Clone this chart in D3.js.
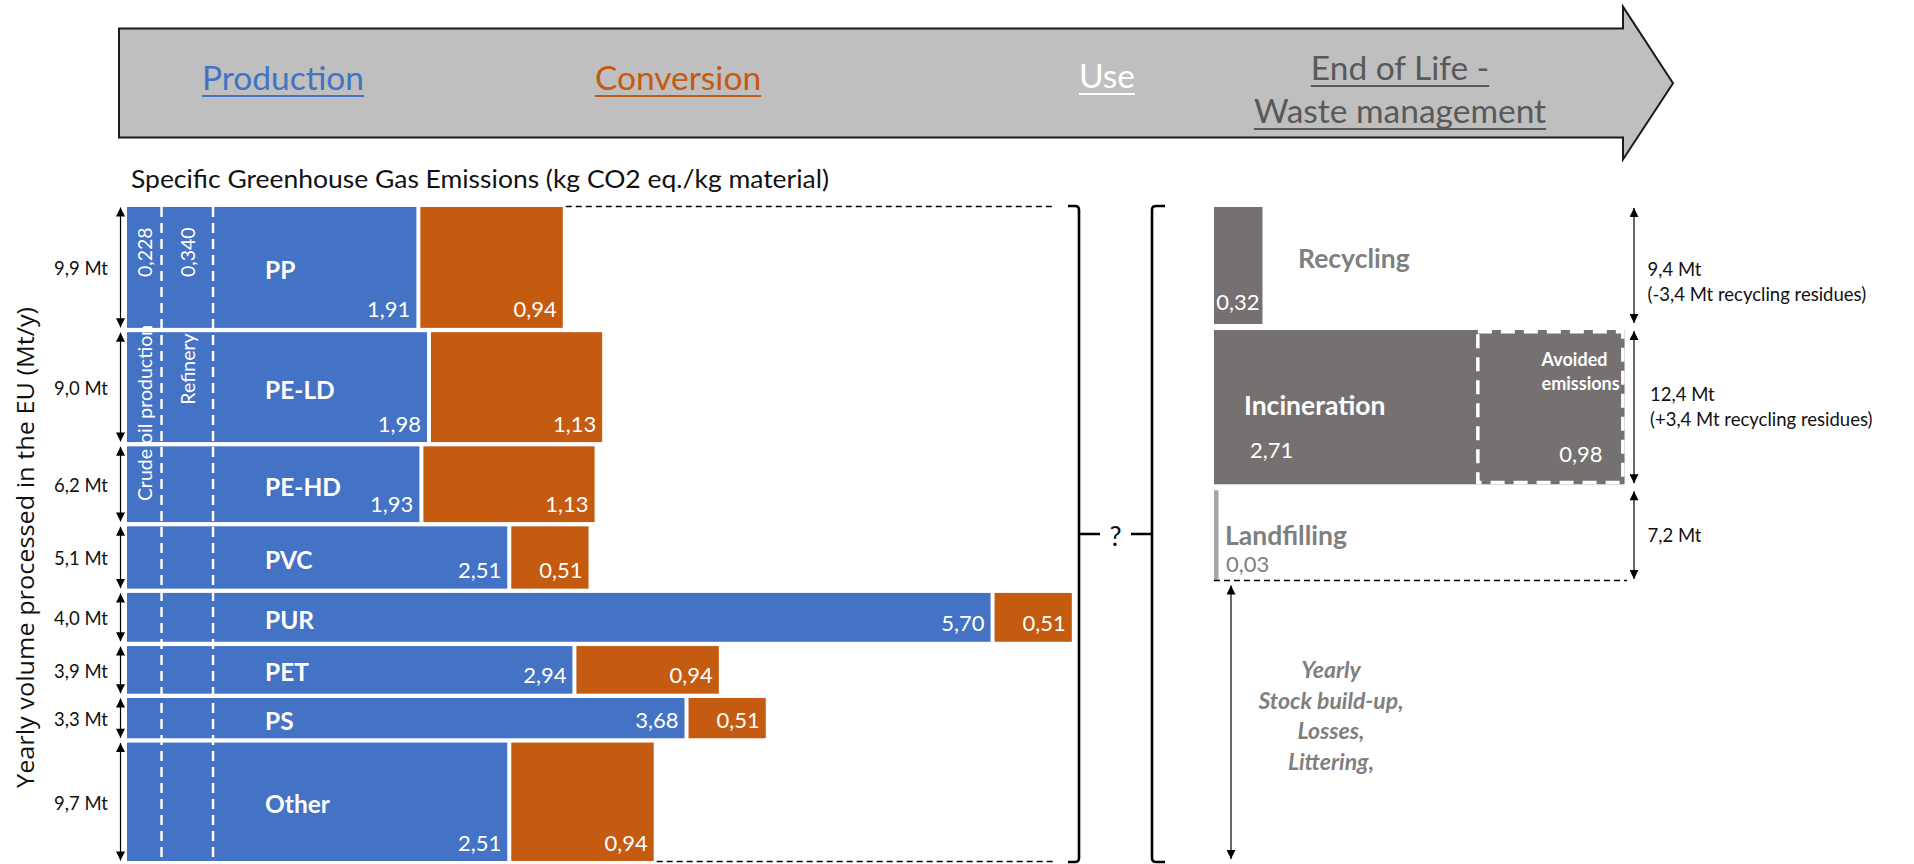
<!DOCTYPE html>
<html>
<head>
<meta charset="utf-8">
<script src="https://cdn.jsdelivr.net/npm/d3@7"></script>
<style>
  html, body { margin: 0; padding: 0; background: #fff; }
  svg { display: block; font-family: Lato, "Open Sans", sans-serif; }
</style>
</head>
<body>
<svg id="chart" width="1914" height="864"></svg>
<script>
// ---- data -------------------------------------------------------------
const stages = ["Production", "Conversion", "Use", "End of Life -", "Waste management"];

const materials = ["PP", "PE-LD", "PE-HD", "PVC", "PUR", "PET", "PS", "Other"];
const volumes = [9.9, 9.0, 6.2, 5.1, 4.0, 3.9, 3.3, 9.7];            // Mt/y
const productionGHG = [1.91, 1.98, 1.93, 2.51, 5.70, 2.94, 3.68, 2.51]; // kg CO2 eq./kg
const conversionGHG = [0.94, 1.13, 1.13, 0.51, 0.51, 0.94, 0.51, 0.94];

const upstreamSteps = ["Crude oil production", "Refinery"];
const upstreamGHG = [0.228, 0.340];

const eolRoutes = ["Recycling", "Incineration", "Landfilling"];
const eolGHG = [0.32, 2.71, 0.03];
const eolVolumes = [9.4, 12.4, 7.2];
const eolNotes = ["(-3,4 Mt recycling residues)", "(+3,4 Mt recycling residues)", ""];
const avoidedGHG = 0.98;
const avoidedLabel = ["Avoided", "emissions"];
const stockLines = ["Yearly", "Stock build-up,", "Losses,", "Littering,"];

const titleText = "Specific Greenhouse Gas Emissions (kg CO2 eq./kg material)";
const yTitle = "Yearly volume processed in the EU (Mt/y)";

// ---- helpers ----------------------------------------------------------
const comma = (f) => (v) => f(v).replace(".", ",");
const fmt2 = comma(d3.format(".2f"));
const fmt3 = comma(d3.format(".3f"));
const fmt1 = comma(d3.format(".1f"));

const BLUE = "#4472C4", ORANGE = "#C55A11", GREY = "#767171";

const svg = d3.select("#chart");
const plotTop = 207, plotBottom = 861;
const barX0 = 127, eolX0 = 1214;

// emission scale shared by all panels (kg CO2 eq./kg -> px)
const x = d3.scaleLinear().domain([0, 1]).range([0, 151.5]);
const w = (v) => x(v) - x(0);

// volume scale, left panel
const total = d3.sum(volumes);
const gapL = 4.3;
const yL = d3.scaleLinear().domain([0, total])
  .range([plotTop, plotBottom - gapL * (volumes.length - 1)]);
const cumL = d3.cumsum([0, ...volumes]);
const rows = materials.map((m, i) => {
  const top = yL(cumL[i]) + i * gapL;
  const h = yL(volumes[i]) - yL(0);
  return { m, i, top, h, bottom: top + h, mid: top + h / 2 };
});

// volume scale, right panel (the remaining volume is stock / losses)
const stockVolume = total - d3.sum(eolVolumes);
const gapR = 6;
const rightVols = [...eolVolumes, stockVolume];
const yR = d3.scaleLinear().domain([0, total])
  .range([plotTop, plotBottom - gapR * (rightVols.length - 1)]);
const cumR = d3.cumsum([0, ...rightVols]);
const segs = rightVols.map((v, i) => {
  const top = yR(cumR[i]) + i * gapR;
  const h = yR(v) - yR(0);
  return { top, h, bottom: top + h, mid: top + h / 2 };
});

// arrow heads
const defs = svg.append("defs");
defs.append("marker").attr("id", "head")
  .attr("viewBox", "0 0 10 10").attr("refX", 10).attr("refY", 5)
  .attr("markerWidth", 10).attr("markerHeight", 9)
  .attr("markerUnits", "userSpaceOnUse")
  .attr("orient", "auto-start-reverse")
  .append("path").attr("d", "M0,0 L10,5 L0,10 Z").attr("fill", "#000");

function vArrow(g, xPos, y1, y2) {
  g.append("line").attr("x1", xPos).attr("x2", xPos).attr("y1", y1).attr("y2", y2)
    .attr("stroke", "#000").attr("stroke-width", 1.2)
    .attr("marker-start", "url(#head)").attr("marker-end", "url(#head)");
}

// ---- header arrow -----------------------------------------------------
const header = svg.append("g");
header.append("path")
  .attr("d", d3.line()([[119, 28.5], [1623, 28.5], [1623, 6.7], [1673, 83.3],
                        [1623, 159.5], [1623, 137.5], [119, 137.5]]) + "Z")
  .attr("fill", "#BFBFBF").attr("stroke", "#1a1a1a").attr("stroke-width", 2)
  .attr("stroke-linejoin", "miter");

const headerLabels = [
  { t: stages[0], x: 283, y: 90, c: BLUE },
  { t: stages[1], x: 678, y: 90, c: ORANGE },
  { t: stages[2], x: 1107, y: 88, c: "#FFFFFF" },
  { t: stages[3], x: 1400, y: 80, c: "#595959" },
  { t: stages[4], x: 1400, y: 123, c: "#595959" }
];
headerLabels.forEach(d => {
  const t = header.append("text").attr("x", d.x).attr("y", d.y)
    .attr("text-anchor", "middle").attr("font-size", 33.5).attr("fill", d.c).text(d.t);
  const len = t.node().getComputedTextLength();
  header.append("line").attr("x1", d.x - len / 2).attr("x2", d.x + len / 2)
    .attr("y1", d.y + 6).attr("y2", d.y + 6)
    .attr("stroke", d.c).attr("stroke-width", 2.2);
});

// ---- titles -----------------------------------------------------------
svg.append("text").attr("x", 131).attr("y", 188).attr("font-size", 25)
  .attr("textLength", 698).attr("lengthAdjust", "spacingAndGlyphs")
  .attr("fill", "#111").text(titleText);

svg.append("text")
  .attr("transform", `translate(34,${(307 + 788) / 2}) rotate(-90)`)
  .attr("text-anchor", "middle").attr("font-family", "'Open Sans', sans-serif")
  .attr("font-size", 23).attr("textLength", 481).attr("lengthAdjust", "spacingAndGlyphs")
  .attr("fill", "#111").text(yTitle);

// ---- left panel: production + conversion bars -------------------------
const left = svg.append("g");

left.selectAll("rect.prod").data(rows).join("rect").attr("class", "prod")
  .attr("x", barX0).attr("y", d => d.top)
  .attr("width", d => w(productionGHG[d.i])).attr("height", d => d.h)
  .attr("fill", BLUE);

const convGap = 4;
left.selectAll("rect.conv").data(rows).join("rect").attr("class", "conv")
  .attr("x", d => barX0 + w(productionGHG[d.i]) + convGap).attr("y", d => d.top)
  .attr("width", d => w(conversionGHG[d.i])).attr("height", d => d.h)
  .attr("fill", ORANGE);

// upstream split lines (crude oil production, refinery)
const upCum = d3.cumsum(upstreamGHG);
left.selectAll("line.up").data(upCum).join("line").attr("class", "up")
  .attr("x1", d => barX0 + w(d)).attr("x2", d => barX0 + w(d))
  .attr("y1", plotTop).attr("y2", plotBottom)
  .attr("stroke", "#fff").attr("stroke-width", 2.4).attr("stroke-dasharray", "10,6");

const upMid = [0, ...upCum].slice(0, -1).map((s, i) => barX0 + w(s + upstreamGHG[i] / 2));
upstreamGHG.forEach((v, i) => {
  left.append("text")
    .attr("transform", `translate(${upMid[i]},${rows[0].top + 70}) rotate(-90)`)
    .attr("dominant-baseline", "central").attr("font-size", 19.5).attr("fill", "#fff")
    .text(fmt3(v));
});
left.append("text")
  .attr("transform", `translate(${upMid[0]},${413}) rotate(-90)`)
  .attr("text-anchor", "middle").attr("dominant-baseline", "central")
  .attr("font-size", 19.5).attr("fill", "#fff").text(upstreamSteps[0]);
left.append("text")
  .attr("transform", `translate(${upMid[1]},${369}) rotate(-90)`)
  .attr("text-anchor", "middle").attr("dominant-baseline", "central")
  .attr("font-size", 19.5).attr("fill", "#fff").text(upstreamSteps[1]);

// material names
left.selectAll("text.mat").data(rows).join("text").attr("class", "mat")
  .attr("x", 265).attr("y", d => d.mid + 2).attr("dominant-baseline", "central")
  .attr("font-size", 24.5).attr("font-weight", 700).attr("fill", "#fff").text(d => d.m);

// value labels
left.selectAll("text.pv").data(rows).join("text").attr("class", "pv")
  .attr("x", d => barX0 + w(productionGHG[d.i]) - 6).attr("y", d => d.bottom - 10.5)
  .attr("text-anchor", "end").attr("font-size", 22).attr("fill", "#fff")
  .text(d => fmt2(productionGHG[d.i]));
left.selectAll("text.cv").data(rows).join("text").attr("class", "cv")
  .attr("x", d => barX0 + w(productionGHG[d.i]) + convGap + w(conversionGHG[d.i]) - 6)
  .attr("y", d => d.bottom - 10.5)
  .attr("text-anchor", "end").attr("font-size", 22).attr("fill", "#fff")
  .text(d => fmt2(conversionGHG[d.i]));

// volume arrows + labels
rows.forEach(d => vArrow(left, 120.5, d.top + 0.5, d.bottom - 0.5));
left.selectAll("text.vol").data(rows).join("text").attr("class", "vol")
  .attr("x", 108).attr("y", d => d.mid + 1).attr("text-anchor", "end")
  .attr("dominant-baseline", "central").attr("font-size", 18.5).attr("fill", "#111")
  .text(d => fmt1(volumes[d.i]) + " Mt");

// dashed outline closing the left block
const first = rows[0], last = rows[rows.length - 1];
const bracketL = 1079, bracketR = 1152, midY = (plotTop + plotBottom) / 2;
left.append("line")
  .attr("x1", barX0 + w(productionGHG[0]) + convGap + w(conversionGHG[0]) + 3)
  .attr("x2", 1054).attr("y1", first.top - 0.5).attr("y2", first.top - 0.5)
  .attr("stroke", "#000").attr("stroke-width", 1.5).attr("stroke-dasharray", "6,4");
left.append("line")
  .attr("x1", barX0 + w(productionGHG[7]) + convGap + w(conversionGHG[7]) + 3)
  .attr("x2", 1054).attr("y1", last.bottom + 0.5).attr("y2", last.bottom + 0.5)
  .attr("stroke", "#000").attr("stroke-width", 1.5).attr("stroke-dasharray", "6,4");

// brackets and question mark
const br = svg.append("g").attr("fill", "none").attr("stroke", "#000").attr("stroke-width", 2.6);
br.append("path").attr("d",
  `M${bracketL - 11},${plotTop - 1} H${bracketL - 4} Q${bracketL},${plotTop - 1} ${bracketL},${plotTop + 3}
   V${plotBottom - 3} Q${bracketL},${plotBottom + 1} ${bracketL - 4},${plotBottom + 1} H${bracketL - 11}
   M${bracketL},${midY} H${bracketL + 21}`);
br.append("path").attr("d",
  `M${bracketR + 13},${plotTop - 1} H${bracketR + 4} Q${bracketR},${plotTop - 1} ${bracketR},${plotTop + 3}
   V${plotBottom - 3} Q${bracketR},${plotBottom + 1} ${bracketR + 4},${plotBottom + 1} H${bracketR + 13}
   M${bracketR},${midY} H${bracketR - 21}`);
svg.append("text").attr("x", (bracketL + bracketR) / 2).attr("y", midY + 1)
  .attr("text-anchor", "middle").attr("dominant-baseline", "central")
  .attr("font-size", 27).attr("fill", "#111").text("?");

// ---- right panel: end of life -----------------------------------------
const right = svg.append("g");
const eolFill = [GREY, GREY, "#A6A6A6"];
eolRoutes.forEach((r, i) => {
  right.append("rect").attr("x", eolX0).attr("y", segs[i].top)
    .attr("width", w(eolGHG[i])).attr("height", segs[i].h).attr("fill", eolFill[i]);
});
// landfilling: the bar is barely wider than a line, so mark its left edge too
right.append("line").attr("x1", eolX0 + 0.5).attr("x2", eolX0 + 0.5)
  .attr("y1", segs[2].top).attr("y2", segs[2].bottom).attr("stroke", "#A6A6A6");

// avoided emissions inside incineration
const incRight = eolX0 + w(eolGHG[1]);
right.append("rect")
  .attr("x", incRight - w(avoidedGHG) + 1.75).attr("y", segs[1].top + 1.75)
  .attr("width", w(avoidedGHG) - 3.5).attr("height", segs[1].h - 3.5)
  .attr("fill", "none").attr("stroke", "#fff").attr("stroke-width", 3.5)
  .attr("stroke-dasharray", "14,9");
right.append("text").attr("x", incRight - 83).attr("y", segs[1].top + 36)
  .attr("font-size", 18).attr("font-weight", 700).attr("fill", "#fff").text(avoidedLabel[0]);
right.append("text").attr("x", incRight - 83).attr("y", segs[1].top + 60)
  .attr("font-size", 18).attr("font-weight", 700).attr("fill", "#fff").text(avoidedLabel[1]);
right.append("text").attr("x", incRight - 22).attr("y", segs[1].bottom - 22)
  .attr("text-anchor", "end").attr("font-size", 22).attr("fill", "#fff").text(fmt2(avoidedGHG));

// route labels
right.append("text").attr("x", 1298).attr("y", segs[0].top + 61)
  .attr("font-size", 26.5).attr("font-weight", 700).attr("fill", "#7F7F7F").text(eolRoutes[0]);
right.append("text").attr("x", eolX0 + w(eolGHG[0]) - 3).attr("y", segs[0].bottom - 14)
  .attr("text-anchor", "end").attr("font-size", 22).attr("fill", "#fff").text(fmt2(eolGHG[0]));

right.append("text").attr("x", 1244).attr("y", segs[1].top + 85)
  .attr("font-size", 26.5).attr("font-weight", 700).attr("fill", "#fff").text(eolRoutes[1]);
right.append("text").attr("x", 1250).attr("y", segs[1].top + 128)
  .attr("font-size", 22).attr("fill", "#fff").text(fmt2(eolGHG[1]));

right.append("text").attr("x", 1225).attr("y", segs[2].top + 55)
  .attr("font-size", 26.5).attr("font-weight", 700).attr("fill", "#7F7F7F").text(eolRoutes[2]);
right.append("text").attr("x", 1226).attr("y", segs[2].bottom - 8)
  .attr("font-size", 22).attr("fill", "#7F7F7F").text(fmt2(eolGHG[2]));

right.append("line").attr("x1", eolX0).attr("x2", 1627)
  .attr("y1", segs[2].bottom + 0.5).attr("y2", segs[2].bottom + 0.5)
  .attr("stroke", "#000").attr("stroke-width", 1.5).attr("stroke-dasharray", "6,4");

// volume arrows on the right, with their labels
const volLabelDy = [10.5, -6.5, 7];
eolRoutes.forEach((r, i) => {
  vArrow(right, 1634, segs[i].top + 1, segs[i].bottom - 1);
  const lx = i === 1 ? 1650 : 1647.5;
  const ly = segs[i].mid + volLabelDy[i];
  right.append("text").attr("x", lx).attr("y", ly)
    .attr("font-size", 18.5).attr("fill", "#111").text(fmt1(eolVolumes[i]) + " Mt");
  if (eolNotes[i] !== "") {
    right.append("text").attr("x", lx).attr("y", ly + 25)
      .attr("font-size", 18.5).attr("fill", "#111").text(eolNotes[i]);
  }
});

// stock build-up / losses / littering
vArrow(right, 1231, segs[3].top - 0.5, segs[3].bottom - 2);
stockLines.forEach((s, i) => {
  right.append("text").attr("x", 1331).attr("y", 678 + i * 30.5)
    .attr("text-anchor", "middle").attr("font-size", 23).attr("font-weight", 700)
    .attr("font-style", "italic").attr("fill", "#7F7F7F").text(s);
});
</script>
</body>
</html>
